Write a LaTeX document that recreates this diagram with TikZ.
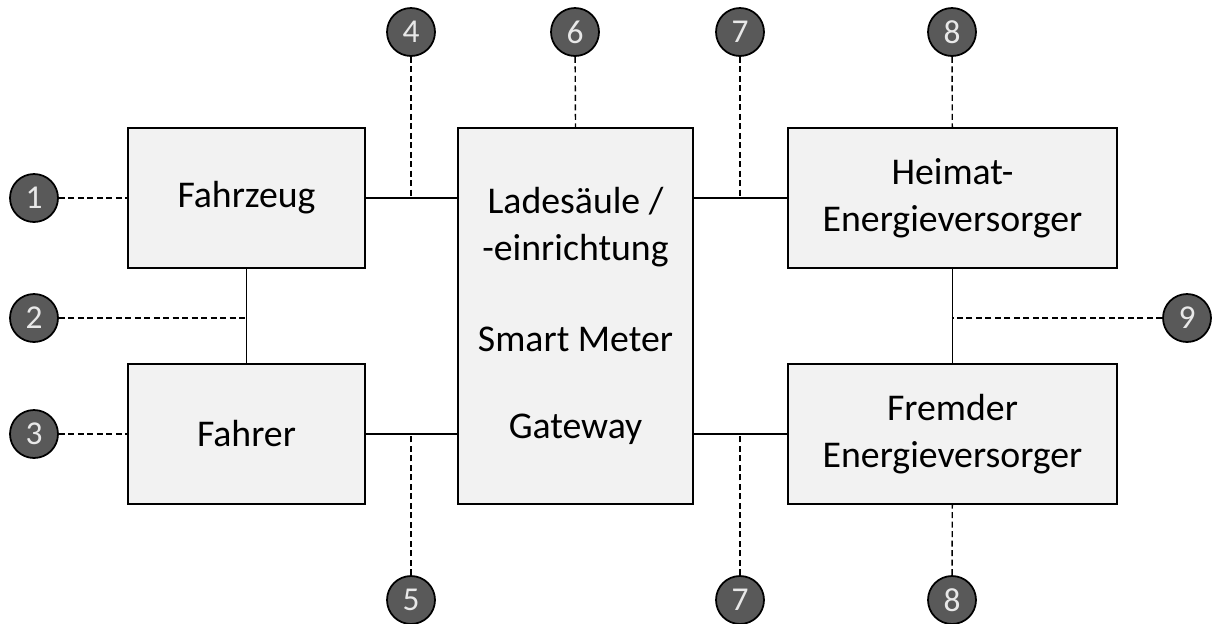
\documentclass[tikz,border=0pt]{standalone}
\usepackage{fontspec}
\setmainfont{Carlito}
\usetikzlibrary{positioning}
\definecolor{boxgray}{HTML}{F2F2F2}
\definecolor{dotgray}{HTML}{595959}
\definecolor{numgray}{HTML}{E8E8E8}

\begin{document}
\begin{tikzpicture}[x=.02cm, y=-.02cm,
    block/.style={draw=black, line width=1.1pt, fill=boxgray, minimum width=4.74cm, minimum height=2.8cm,
      align=center, inner sep=0pt, font=\fontsize{21.5}{26.7}\selectfont},
    marker/.style={circle, draw=black, line width=1pt, fill=dotgray, text=numgray, minimum size=.96cm,
      inner sep=0pt, font=\fontsize{19}{20}\selectfont},
    link/.style={line width=1pt},
    hint/.style={line width=.8pt, dash pattern=on 3.4pt off 2pt}]
  \useasboundingbox (0,0) rectangle (1213,623);

  % Bloecke
  \node[block] (fz) at (246.5, 198) {Fahrzeug};
  \node[block] (fa) at (246.5, 434) {Fahrer};
  \node[block, minimum width=4.7cm, minimum height=7.52cm] (ls) at (575.5, 316)
    {Ladesäule /\\-einrichtung\\[.88cm]Smart Meter\\[.82cm]Gateway};
  \node[block, minimum width=6.58cm] (hv) at (952.5, 198) {Heimat-\\Energieversorger};
  \node[block, minimum width=6.58cm] (fv) at (952.5, 434) {Fremder\\Energieversorger};

  % Nummern
  \foreach \name/\xx/\yy/\num in {c1/34/198/1, c2/34/318/2, c3/34/434/3, c4/411/32/4, c6/575/32/6,
      c7a/740/32/7, c8a/952/32/8, c9/1187/318/9, c5/411/600/5, c7b/740/600/7, c8b/952/600/8}{
    \node[marker] (\name) at (\xx, \yy) {\num};
  }

  % Verbindungen
  \draw[link] (fz) -- (fa);
  \draw[link] (fz.east) -- (fz.east -| ls.west);
  \draw[link] (fa.east) -- (fa.east -| ls.west);
  \draw[link] (hv.west -| ls.east) -- (hv.west);
  \draw[link] (fv.west -| ls.east) -- (fv.west);
  \draw[link] (hv) -- (fv);

  % Schnittstellen
  \draw[hint] (c1) -- (fz);
  \draw[hint] (c2) -- (c2 -| fz.south);
  \draw[hint] (c3) -- (fa);
  \draw[hint] (c4) -- (c4 |- fz.east);
  \draw[hint] (c5) -- (c5 |- fa.east);
  \draw[hint] (c6) -- (ls.north);
  \draw[hint] (c7a) -- (c7a |- hv.west);
  \draw[hint] (c7b) -- (c7b |- fv.west);
  \draw[hint] (c8a) -- (hv);
  \draw[hint] (c8b) -- (fv);
  \draw[hint] (c9) -- (c9 -| hv.south);
\end{tikzpicture}
\end{document}
